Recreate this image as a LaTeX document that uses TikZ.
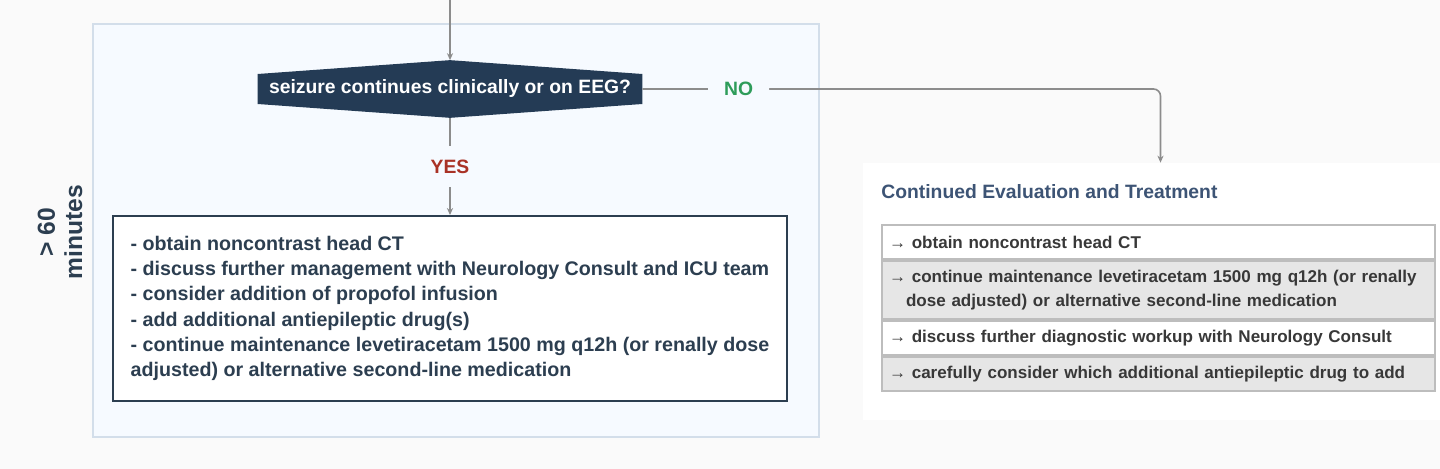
\documentclass[tikz,border=0pt]{standalone}
\usepackage{fontspec}
\setmainfont{Liberation Sans}
\usepackage{tikz}
\usetikzlibrary{calc,positioning,backgrounds,arrows.meta}
\definecolor{navy}{HTML}{2C3E50}
\definecolor{qfill}{HTML}{243B55}
\definecolor{titlenavy}{HTML}{3D5475}
\definecolor{panelblue}{HTML}{F6FAFF}
\definecolor{panelline}{HTML}{D3DEEA}
\definecolor{pagebg}{HTML}{FAFAFA}
\definecolor{yesred}{HTML}{A93226}
\definecolor{nogreen}{HTML}{2E9C5A}
\definecolor{rowgray}{HTML}{E6E6E6}
\definecolor{rowline}{HTML}{BDBDBD}
\definecolor{flowgray}{HTML}{8C8C8C}

\begin{document}
\begin{tikzpicture}[x=0.02cm, y=-0.02cm,
    flow/.style={draw=flowgray, line width=0.9pt, -{Stealth[length=4pt,width=3.5pt]}},
    lbl/.style={font=\bfseries\fontsize{11}{13}\selectfont, fill=panelblue, inner xsep=0.32cm, inner ysep=0.28cm},
    qbox/.style={minimum width=7.68cm, minimum height=1.14cm, inner sep=0, text=white, font=\bfseries\fontsize{11}{13}\selectfont},
    listbox/.style={draw=navy, line width=1.1pt, fill=white, minimum width=13.48cm, minimum height=3.7cm, align=left, text=navy, font=\bfseries\fontsize{11.2}{14.4}\selectfont},
    rowbox/.style={draw=rowline, line width=1.2pt, text width=10.78cm, minimum width=11.06cm, minimum height=0.68cm, inner xsep=0.14cm, inner ysep=0.18cm, align=left, text=black!78, font=\bfseries\fontsize{9.7}{13.6}\selectfont}]
    \useasboundingbox (0,0) rectangle (1440,469);
    %panels
    \begin{scope}[on background layer]
        \fill[pagebg] (0,0) rectangle (1440,469);
        \draw[panelline, fill=panelblue, line width=0.8pt] (93,24) rectangle (819,437);
    \end{scope}
    \node[fill=white, minimum width=11.54cm, minimum height=5.14cm, inner sep=0] (cont) at (1151.5,291.5) {};

    %time label
    \node[rotate=90, align=center, text=navy, font=\bfseries\fontsize{14}{15.5}\selectfont] (time) at (60,232) {> 60\\minutes};

    %decision
    \coordinate (top) at (450,0);
    \node[qbox] (q) at (450,89) {seizure continues clinically or on EEG?};
    \begin{scope}[on background layer]
        \fill[qfill] ($(q.west)+(0,-15)$) -- (q.north) -- ($(q.east)+(0,-15)$)
            -- ($(q.east)+(0,15)$) -- (q.south) -- ($(q.west)+(0,15)$) -- cycle;
    \end{scope}

    %yes branch
    \node[listbox] (acts) at (450,308.5) {- obtain noncontrast head CT\\
        - discuss further management with Neurology Consult and ICU team\\
        - consider addition of propofol infusion\\
        - add additional antiepileptic drug(s)\\
        - continue maintenance levetiracetam 1500 mg q12h (or renally dose\\
        adjusted) or alternative second-line medication};

    %no branch
    \node[anchor=west, inner sep=0, text=titlenavy, font=\bfseries\fontsize{11}{13}\selectfont] (ttl) at (881,192) {Continued Evaluation and Treatment};
    \node[rowbox, fill=white, anchor=north west] (r1) at (881,224) {→ obtain noncontrast head CT};
    \foreach \i/\clr/\txt in {
        2/rowgray/{→ continue maintenance levetiracetam 1500 mg q12h (or renally\\\hspace*{0.34cm}dose adjusted) or alternative second-line medication},
        3/white/{→ discuss further diagnostic workup with Neurology Consult},
        4/rowgray/{→ carefully consider which additional antiepileptic drug to add}}
    {
        \pgfmathtruncatemacro{\prev}{\i-1}
        \node[rowbox, fill=\clr, below=0pt of r\prev] (r\i) {\txt};
    }

    %connectors
    \draw[flow] (top) -- (q.north);
    \draw[flow] (q.south) -- node[lbl, text=yesred] {YES} (acts.north);
    \draw[flow, rounded corners=4pt] (q.east) -| node[lbl, text=nogreen, pos=0.093] {NO} ([xshift=0.18cm]cont.north);
\end{tikzpicture}
\end{document}
